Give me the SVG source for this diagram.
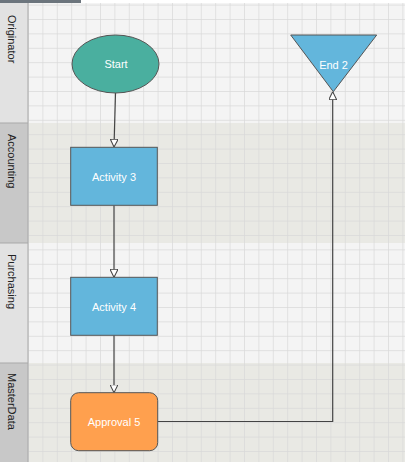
<svg xmlns="http://www.w3.org/2000/svg" width="405" height="462" viewBox="0 0 405 462">
<defs>
<style>
.hdr{stroke:#a9a9a9;stroke-width:1}
.hl{fill:#e2e2e2}
.hd{fill:#c8c8c8}
.lt{font-family:"Liberation Sans",Arial,sans-serif;font-size:11px;fill:#222}
.node{stroke:#555;stroke-width:1}
.nt{font-family:"Liberation Sans",Arial,sans-serif;font-size:11px;fill:#fff;text-anchor:middle;dominant-baseline:central}
.conn{fill:none;stroke:#444;stroke-width:1.2}
</style>
<pattern id="grid" x="28" y="4.6" width="14.4" height="14.4" patternUnits="userSpaceOnUse">
<path d="M0 0H14.4M0 0V14.4" fill="none" stroke="#d9d9d9" stroke-width="1.4"/>
</pattern>
<marker id="arr" viewBox="0 0 10 10" refX="10" refY="5" markerWidth="8" markerHeight="8" markerUnits="userSpaceOnUse" orient="auto">
<path d="M0 0L10 5L0 10Z" fill="#fff" stroke="#444" stroke-width="1.3"/>
</marker>
</defs>
<g id="lanes">
<rect x="28" y="3" width="377" height="120" fill="#f4f4f4"/>
<rect x="28" y="123" width="377" height="120" fill="#e9e9e4"/>
<rect x="28" y="243" width="377" height="120" fill="#f4f4f4"/>
<rect x="28" y="363" width="377" height="99" fill="#e9e9e4"/>
<rect x="28" y="3" width="377" height="459" fill="url(#grid)"/>
<rect x="0" y="3" width="28" height="120" class="hl"/>
<rect x="0" y="123" width="28" height="120" class="hd"/>
<rect x="0" y="243" width="28" height="120" class="hl"/>
<rect x="0" y="363" width="28" height="99" class="hd"/>
<path d="M0 123H28M0 243H28M0 363H28M28 3V462" class="hdr"/>
<rect x="0" y="0" width="81" height="3" fill="#6c757d"/>
<text class="lt" transform="translate(8,15) rotate(90)">Originator</text>
<text class="lt" transform="translate(8,134) rotate(90)">Accounting</text>
<text class="lt" transform="translate(8,254) rotate(90)">Purchasing</text>
<text class="lt" transform="translate(8,373) rotate(90)">MasterData</text>
</g>
<g id="connectors">
<path class="conn" d="M115.5 93L114 147" marker-end="url(#arr)"/>
<path class="conn" d="M114 205.3V277.3" marker-end="url(#arr)"/>
<path class="conn" d="M114 335.3V392.7" marker-end="url(#arr)"/>
<path class="conn" d="M157.7 421.5H332.7V91.7" marker-end="url(#arr)"/>
</g>
<g id="start">
<ellipse class="node" cx="115.5" cy="64" rx="43.5" ry="29" fill="#4aaf9f"/>
<text class="nt" x="116" y="64">Start</text>
</g>
<g id="activity3">
<rect class="node" x="70.7" y="147.3" width="86.6" height="58" fill="#63b6dc"/>
<text class="nt" x="114" y="177">Activity 3</text>
</g>
<g id="activity4">
<rect class="node" x="70.7" y="277.3" width="86.6" height="58" fill="#63b6dc"/>
<text class="nt" x="114" y="307">Activity 4</text>
</g>
<g id="approval5">
<rect class="node" x="70.7" y="392.7" width="87" height="58" rx="8" fill="#ffa04e"/>
<text class="nt" x="114" y="422">Approval 5</text>
</g>
<g id="end2">
<path class="node" d="M290.7 35H376.7L333.3 91.7Z" fill="#63b6dc"/>
<text class="nt" x="333.5" y="64.5">End 2</text>
</g>
</svg>
